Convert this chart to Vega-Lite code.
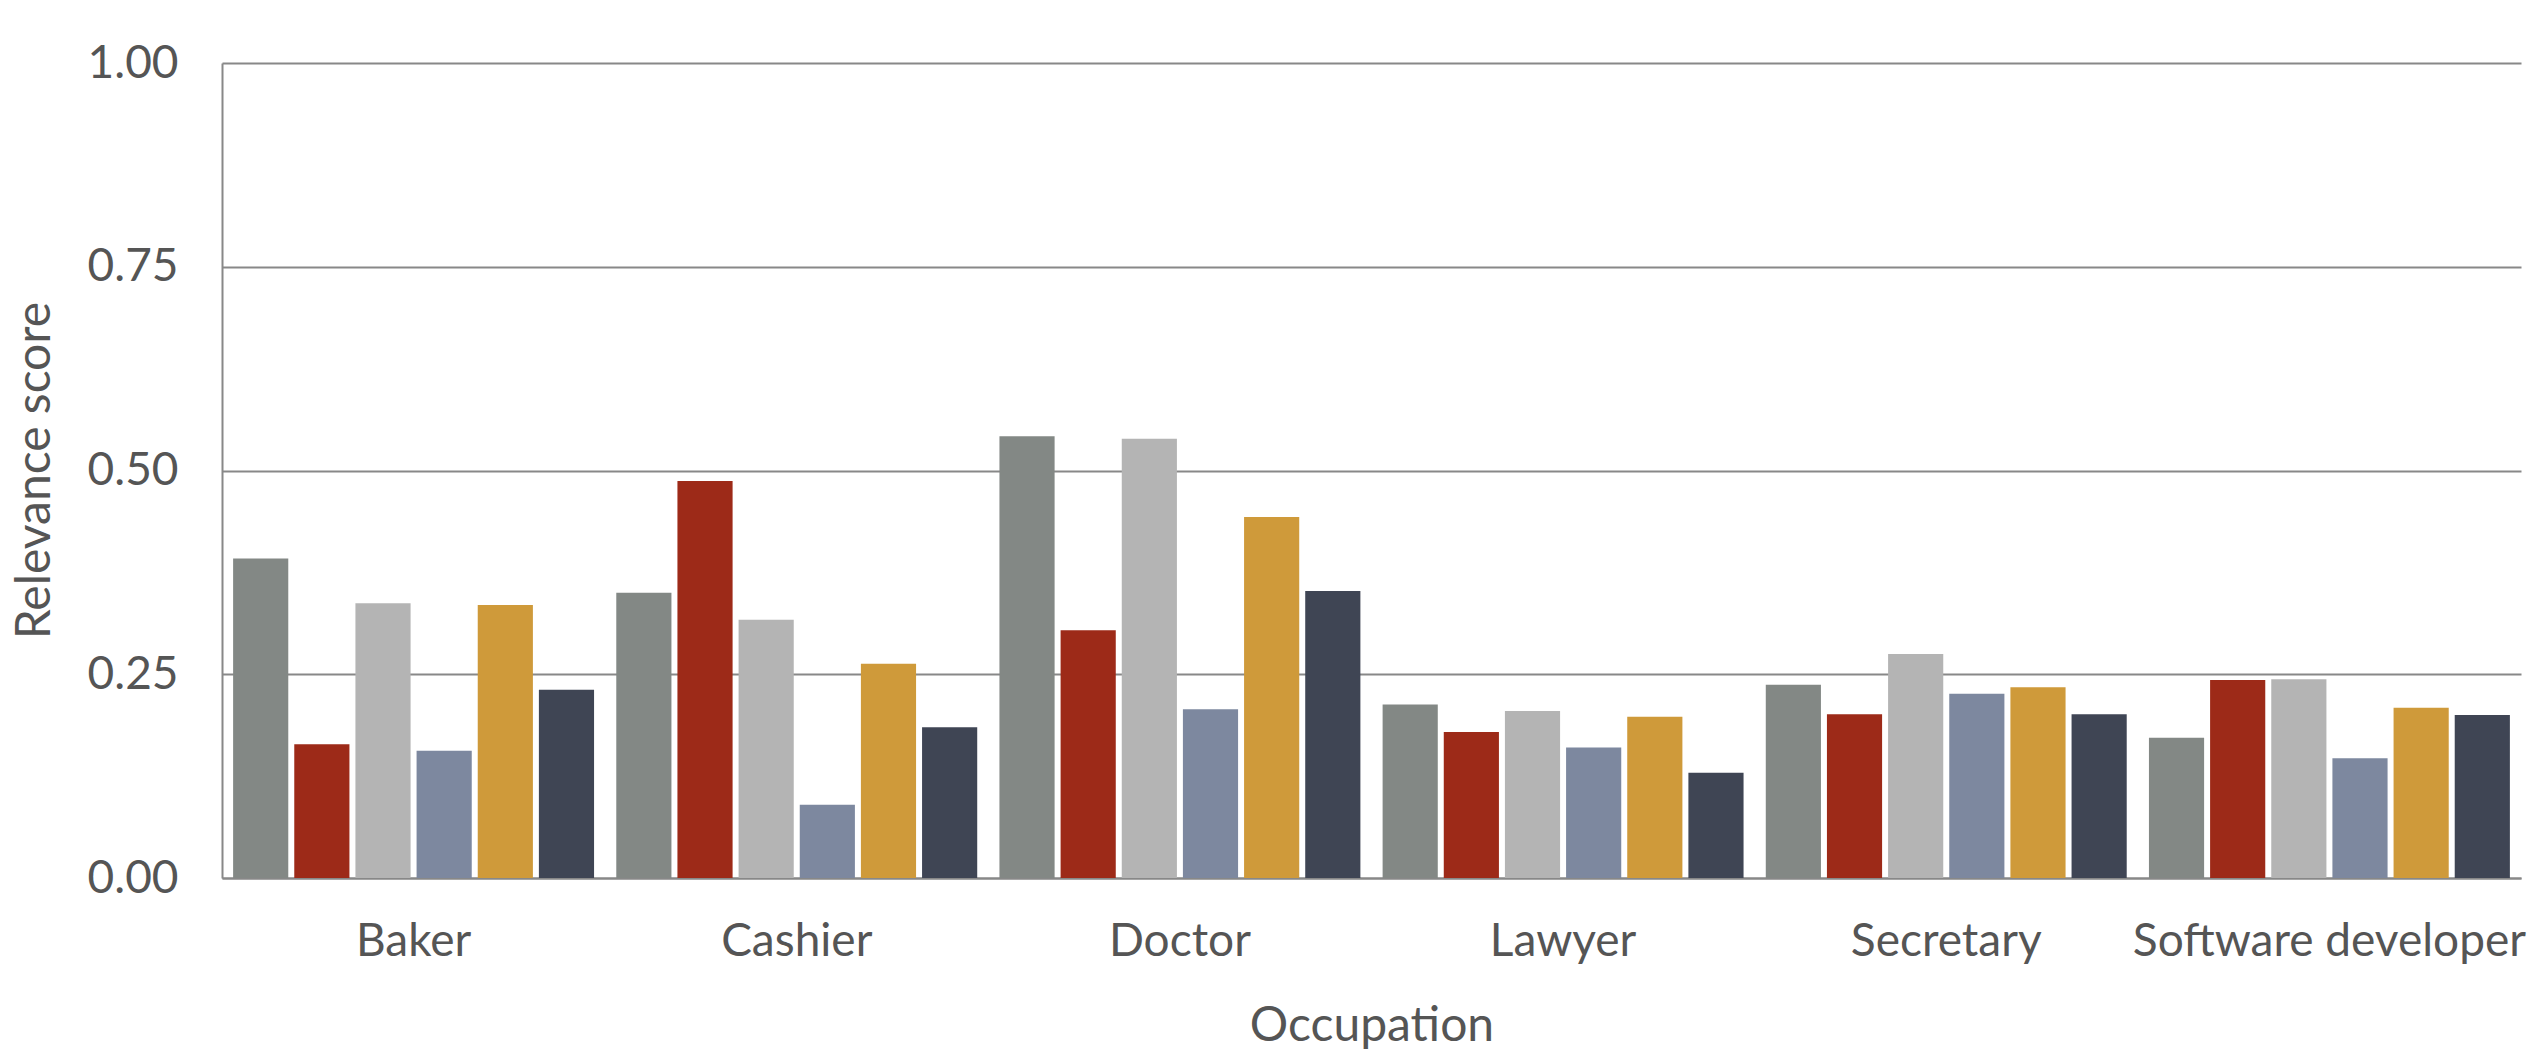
{
  "$schema": "https://vega.github.io/schema/vega-lite/v6.json",
  "width": 2299,
  "height": 815,
  "autosize": {"type": "none"},
  "padding": {"left": 222, "top": 63, "right": 21, "bottom": 182},
  "background": "white",
  "data": {
    "values": [
      {"occupation": "Baker", "series": "S1", "score": 0.392},
      {"occupation": "Baker", "series": "S2", "score": 0.164},
      {"occupation": "Baker", "series": "S3", "score": 0.337},
      {"occupation": "Baker", "series": "S4", "score": 0.156},
      {"occupation": "Baker", "series": "S5", "score": 0.335},
      {"occupation": "Baker", "series": "S6", "score": 0.231},
      {"occupation": "Cashier", "series": "S1", "score": 0.350},
      {"occupation": "Cashier", "series": "S2", "score": 0.487},
      {"occupation": "Cashier", "series": "S3", "score": 0.317},
      {"occupation": "Cashier", "series": "S4", "score": 0.090},
      {"occupation": "Cashier", "series": "S5", "score": 0.263},
      {"occupation": "Cashier", "series": "S6", "score": 0.185},
      {"occupation": "Doctor", "series": "S1", "score": 0.542},
      {"occupation": "Doctor", "series": "S2", "score": 0.304},
      {"occupation": "Doctor", "series": "S3", "score": 0.539},
      {"occupation": "Doctor", "series": "S4", "score": 0.207},
      {"occupation": "Doctor", "series": "S5", "score": 0.443},
      {"occupation": "Doctor", "series": "S6", "score": 0.352},
      {"occupation": "Lawyer", "series": "S1", "score": 0.213},
      {"occupation": "Lawyer", "series": "S2", "score": 0.179},
      {"occupation": "Lawyer", "series": "S3", "score": 0.205},
      {"occupation": "Lawyer", "series": "S4", "score": 0.160},
      {"occupation": "Lawyer", "series": "S5", "score": 0.198},
      {"occupation": "Lawyer", "series": "S6", "score": 0.129},
      {"occupation": "Secretary", "series": "S1", "score": 0.237},
      {"occupation": "Secretary", "series": "S2", "score": 0.201},
      {"occupation": "Secretary", "series": "S3", "score": 0.275},
      {"occupation": "Secretary", "series": "S4", "score": 0.226},
      {"occupation": "Secretary", "series": "S5", "score": 0.234},
      {"occupation": "Secretary", "series": "S6", "score": 0.201},
      {"occupation": "Software developer", "series": "S1", "score": 0.172},
      {"occupation": "Software developer", "series": "S2", "score": 0.243},
      {"occupation": "Software developer", "series": "S3", "score": 0.244},
      {"occupation": "Software developer", "series": "S4", "score": 0.147},
      {"occupation": "Software developer", "series": "S5", "score": 0.209},
      {"occupation": "Software developer", "series": "S6", "score": 0.200}
    ]
  },
  "mark": "bar",
  "encoding": {
    "x": {
      "field": "occupation",
      "type": "nominal",
      "title": "Occupation",
      "scale": {"paddingInner": 0.058, "paddingOuter": 0.029},
      "axis": {
        "labelAngle": 0,
        "labelLimit": 0,
        "labelOverlap": false,
        "ticks": false,
        "tickSize": 0,
        "labelPadding": 77,
        "labelBaseline": "alphabetic",
        "titleY": 162,
        "titleBaseline": "alphabetic"
      }
    },
    "xOffset": {
      "field": "series",
      "type": "nominal",
      "scale": {"paddingInner": 0.098, "paddingOuter": 0}
    },
    "y": {
      "field": "score",
      "type": "quantitative",
      "title": "Relevance score",
      "scale": {"domain": [0, 1], "nice": false},
      "axis": {
        "values": [0, 0.25, 0.5, 0.75, 1],
        "format": ".2f",
        "ticks": false,
        "tickSize": 0,
        "labelPadding": 44,
        "labelBaseline": "middle",
        "titleX": -173,
        "titleY": 407,
        "titleAngle": 270,
        "titleAlign": "center",
        "titleBaseline": "alphabetic"
      }
    },
    "color": {
      "field": "series",
      "type": "nominal",
      "scale": {
        "domain": ["S1", "S2", "S3", "S4", "S5", "S6"],
        "range": ["#838885", "#9D2A18", "#B4B4B4", "#7D889F", "#CF9A3A", "#3F4554"]
      },
      "legend": null
    }
  },
  "config": {
    "view": {"stroke": null},
    "font": "Lato",
    "axis": {
      "domainColor": "#888888",
      "domainWidth": 2,
      "gridColor": "#888888",
      "gridWidth": 2,
      "labelFont": "Lato",
      "labelFontSize": 46,
      "labelColor": "#555555",
      "titleFont": "Lato",
      "titleFontSize": 48,
      "titleFontWeight": "normal",
      "titleColor": "#555555"
    },
    "axisX": {"grid": false},
    "axisY": {"grid": true}
  }
}
